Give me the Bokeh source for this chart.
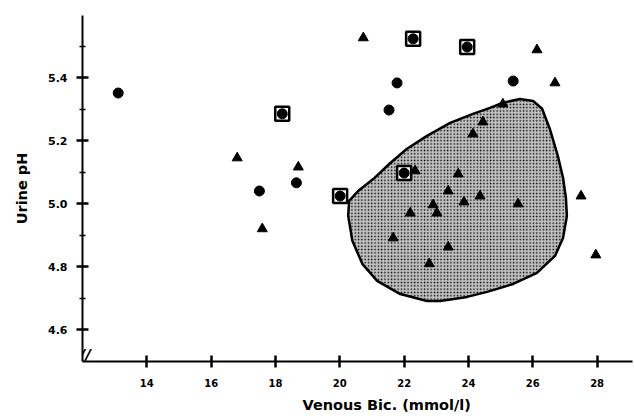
from bokeh.plotting import figure
from bokeh.models import Range1d, FixedTicker, Label, Title
from bokeh.embed import file_html
from bokeh.resources import INLINE

# ---- data ----
circle_x = [13.11, 17.50, 18.65, 21.78, 21.53, 25.39]
circle_y = [5.352, 5.041, 5.067, 5.384, 5.298, 5.390]

tri_x = [16.81, 18.71, 17.59, 20.73, 26.13, 26.69, 27.50, 27.96,
         25.07, 24.45, 24.14, 22.34, 23.68, 23.37, 24.36, 23.86,
         22.90, 23.02, 22.19, 25.54, 21.66, 23.37, 22.78]
tri_y = [5.146, 5.117, 4.921, 5.527, 5.489, 5.384, 5.025, 4.838,
         5.317, 5.260, 5.222, 5.105, 5.095, 5.041, 5.025, 5.006,
         4.997, 4.971, 4.971, 5.000, 4.892, 4.863, 4.810]

box_x = [18.21, 22.28, 23.96, 20.01, 22.00]
box_y = [5.286, 5.524, 5.498, 5.025, 5.098]

region_x = [20.29, 20.57, 21.04, 21.57, 22.09, 22.71, 23.43, 24.14, 24.67, 25.07,
            25.60, 26.01, 26.29, 26.53, 26.78, 26.94, 27.03, 27.06, 26.94, 26.69,
            26.13, 25.39, 24.58, 23.96, 23.12, 22.71, 21.88, 21.16, 20.70, 20.39, 20.26]
region_y = [5.010, 5.041, 5.079, 5.130, 5.175, 5.216, 5.257, 5.286, 5.305, 5.321,
            5.333, 5.327, 5.302, 5.238, 5.152, 5.083, 5.019, 4.962, 4.892, 4.835,
            4.781, 4.746, 4.721, 4.705, 4.692, 4.692, 4.714, 4.756, 4.810, 4.883, 4.962]

x_ticks = [14, 16, 18, 20, 22, 24, 26, 28]
y_ticks = [4.6, 4.8, 5.0, 5.2, 5.4]
y_minor = [4.7, 4.9, 5.1, 5.3, 5.5]
y_tick_labels = ["4.6", "4.8", "5.0", "5.2", "5.4"]

x_label = "Venous Bic. (mmol/l)"
y_label = "Urine pH"

FONT = "DejaVu Sans"

p = figure(width=634, height=419, output_backend="svg", toolbar_location=None,
           x_range=Range1d(12, 29.1), y_range=Range1d(4.5, 5.598),
           min_border_left=82, min_border_right=2, min_border_top=15,
           min_border_bottom=58)
p.background_fill_color = "white"
p.border_fill_color = "white"
p.outline_line_color = None
p.xgrid.visible = False
p.ygrid.visible = False

# shaded region
p.patch(region_x, region_y, fill_color="#c2c2c2", line_color="black", line_width=2.5,
        hatch_pattern="dot", hatch_color="black", hatch_scale=3.3,
        hatch_weight=2, hatch_alpha=1.0)

# markers
p.scatter(circle_x, circle_y, marker="circle", size=10, fill_color="black",
          line_color="black")
p.scatter(tri_x, tri_y, marker="triangle", size=10, fill_color="black",
          line_color="black")
p.scatter(box_x, box_y, marker="square", size=14, fill_color="white",
          line_color="black", line_width=2.5)
p.scatter(box_x, box_y, marker="circle", size=10, fill_color="black",
          line_color="black")

# axes styling
for ax in (p.xaxis[0], p.yaxis[0]):
    ax.axis_line_width = 2
    ax.axis_line_color = "black"
    ax.major_tick_line_width = 2.5
    ax.major_tick_line_color = "black"
    ax.major_tick_in = 6
    ax.major_tick_out = 6
    ax.major_label_text_font = FONT
    ax.major_label_text_font_style = "bold"
    ax.major_label_text_font_size = "10px"
    ax.major_label_text_color = "black"

p.xaxis.ticker = FixedTicker(ticks=x_ticks, minor_ticks=[])
p.xaxis.minor_tick_in = 0
p.xaxis.minor_tick_out = 0
p.xaxis.major_label_standoff = 11

p.yaxis.ticker = FixedTicker(ticks=y_ticks, minor_ticks=y_minor)
p.yaxis.major_label_overrides = {t: s for t, s in zip(y_ticks, y_tick_labels)}
p.yaxis.minor_tick_in = 3
p.yaxis.minor_tick_out = 3
p.yaxis.minor_tick_line_width = 1.5
p.yaxis.minor_tick_line_color = "black"
p.yaxis.major_label_standoff = 9
p.yaxis.major_label_text_font_size = "11px"
p.yaxis.axis_label = y_label
p.yaxis.axis_label_text_font = FONT
p.yaxis.axis_label_text_font_style = "bold"
p.yaxis.axis_label_text_font_size = "14.5px"
p.yaxis.axis_label_text_color = "black"
p.yaxis.axis_label_standoff = 15

p.add_layout(Title(text=x_label, align="left", offset=220, text_font=FONT,
                   text_font_style="bold", text_font_size="14.5px",
                   text_color="black", standoff=11), "below")

# axis-break mark at origin
p.add_layout(Label(x=12.08, y=4.49, text="//", text_font=FONT,
                   text_font_style="bold italic", text_font_size="16px",
                   text_align="center", text_baseline="bottom",
                   text_color="black"))

open("out.html", "w").write(file_html(p, INLINE))
